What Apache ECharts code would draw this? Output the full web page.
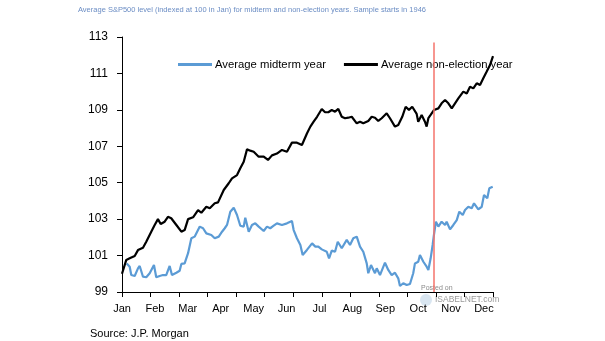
<!DOCTYPE html>
<html>
<head>
<meta charset="utf-8">
<script src="https://cdn.jsdelivr.net/npm/echarts@6/dist/echarts.min.js"></script>
<style>
html,body{margin:0;padding:0;background:#fff;}
#chart{width:605px;height:341px;}
</style>
</head>
<body>
<div id="chart"></div>
<script>
// ---- Data (x = trading day of year, y = index level, Jan = 100) ----
const months = ['Jan','Feb','Mar','Apr','May','Jun','Jul','Aug','Sep','Oct','Nov','Dec'];
const yTicks = [99, 101, 103, 105, 107, 109, 111, 113];
const nonElectionDays = [0,3.0,5.4,8.9,11.2,14.7,17.0,20.5,22.9,25.2,27.1,29.9,32.2,34.5,38.1,41.6,43.9,46.3,49.8,53.3,55.6,59.1,61.5,65.0,67.3,71.3,74.8,77.1,80.6,82.9,85.3,87.6,89.9,92.3,95.8,99.3,102.3,105.1,108.6,112.1,115.6,119.1,122.6,126.1,129.6,132.0,134.3,136.7,140.0,142.3,144.6,147.0,149.3,151.6,154.0,156.3,158.6,161.0,164.5,166.8,169.1,172.6,175.0,177.3,179.6,182.0,185.5,187.8,191.3,193.6,196.4,198.8,201.1,203.4,206.5,207.6,210.0,212.3,213.5,214.7,216.3,218.6,221.7,224.0,226.4,228.7,231.1,233.4,235.7,239.2,241.6,243.9,246.2,248.6,250.9,253.2,255.6,257.9,260.0];
const nonElectionValues = [100.0,100.76,100.85,100.98,101.3,101.43,101.76,102.31,102.68,103.0,102.73,102.86,103.13,103.05,102.68,102.31,102.4,103.0,103.1,103.5,103.35,103.68,103.6,103.87,103.92,104.6,104.97,105.24,105.42,105.79,106.15,106.83,106.76,106.7,106.43,106.43,106.25,106.5,106.6,106.8,106.7,107.2,107.2,107.07,107.7,108.08,108.35,108.62,109.05,108.87,108.87,108.99,108.9,109.05,108.62,108.54,108.57,108.62,108.26,108.35,108.26,108.39,108.62,108.57,108.39,108.54,108.81,108.54,108.08,108.17,108.62,109.17,109.0,109.17,108.78,108.35,108.72,108.35,108.08,108.54,108.72,108.99,109.08,109.36,109.54,109.36,109.08,109.36,109.63,110.0,109.9,110.27,110.18,110.46,110.36,110.73,111.1,111.46,111.95];
const midtermDays = [3.3,5.4,6.5,8.9,11.2,12.4,14.7,17.0,19.4,22.4,24.0,26.4,28.7,31.0,33.4,35.0,38.1,40.4,41.6,43.9,46.3,48.6,50.9,54.5,56.8,59.1,62.6,65.0,67.8,70.1,72.0,73.6,75.9,78.3,80.6,82.9,85.3,86.4,88.8,91.1,93.4,95.8,99.3,101.6,103.9,106.3,108.6,112.1,115.6,119.1,120.3,122.6,125.0,126.6,129.6,133.2,135.5,137.6,140.0,143.5,145.1,147.0,149.3,151.2,154.0,157.5,159.8,162.1,164.5,166.8,169.1,171.5,172.6,174.5,177.3,178.5,180.8,184.3,186.6,189.0,191.3,193.6,194.8,197.1,199.5,201.8,204.1,205.3,207.6,208.8,211.2,213.5,214.7,216.3,217.7,218.6,220.0,221.7,224.0,226.4,227.5,229.9,232.2,234.6,236.4,238.8,240.4,242.7,245.1,246.7,249.7,252.1,253.7,256.0,257.4,259.8];
const midtermValues = [100.57,100.39,99.93,99.88,100.3,100.43,99.84,99.81,100.03,100.48,99.81,99.88,99.93,99.93,100.43,99.93,100.06,100.17,100.54,100.57,101.13,101.95,102.04,102.59,102.5,102.22,102.13,101.95,102.04,102.31,102.5,102.68,103.41,103.63,103.23,102.64,102.59,103.08,102.31,102.68,102.77,102.59,102.35,102.59,102.5,102.64,102.77,102.68,102.77,102.9,102.4,101.95,101.58,101.03,101.31,101.67,101.49,101.49,101.34,101.21,100.85,101.27,101.21,101.76,101.4,101.86,101.58,101.95,102.04,101.49,101.21,100.57,100.03,100.48,100.03,100.3,99.93,100.61,100.21,99.93,100.06,99.75,99.33,99.48,99.38,99.44,100.03,100.57,100.66,101.03,100.66,100.39,100.21,100.85,101.58,102.13,102.86,102.59,102.86,102.68,102.86,102.44,102.68,102.95,103.41,103.23,103.5,103.68,103.6,103.87,103.54,103.68,104.33,104.15,104.69,104.78];
const markerDay = 218.6;
const seriesNames = ['Average midterm year', 'Average non-election year'];
const titleText = 'Average S&P500 level (indexed at 100 in Jan) for midterm and non-election years. Sample starts in 1946';
const sourceText = 'Source: J.P. Morgan';

// ---- Axis config ----
const xMax = 260, tickStep = 20, labelStep = 23.06;
const tickValues = [];
for (let v = 0; v <= xMax; v += tickStep) tickValues.push(v);
const labelValues = months.map((m, i) => i * labelStep);

const FONT = '"Liberation Sans", Arial, sans-serif';

const zip = (xs, ys) => xs.map((x, i) => [x, ys[i]]);

const chart = echarts.init(document.getElementById('chart'), null, {renderer: 'canvas'});
chart.setOption({
  animation: false,
  backgroundColor: '#fff',
  textStyle: {fontFamily: FONT},
  title: {
    text: titleText,
    left: 78, top: 6, padding: 0,
    textStyle: {fontSize: 7.5, fontWeight: 'normal', color: '#6b8dc4', fontFamily: FONT}
  },
  legend: {
    left: 173, top: 54,
    itemWidth: 34, itemHeight: 3, itemGap: 18,
    icon: 'rect',
    textStyle: {fontSize: 11.3, color: '#000', fontFamily: FONT, padding: [0,0,0,-2]},
    data: seriesNames
  },
  grid: {left: 122, right: 112, top: 37, bottom: 49, containLabel: false},
  xAxis: {
    type: 'value', min: 0, max: xMax,
    axisLine: {show: true, lineStyle: {color: '#000', width: 1}},
    axisTick: {show: true, customValues: tickValues, length: 5, lineStyle: {color: '#000'}},
    axisLabel: {
      customValues: labelValues,
      formatter: v => months[Math.round(v / labelStep)] || '',
      color: '#000', fontSize: 11, margin: 11, fontFamily: FONT
    },
    splitLine: {show: false}
  },
  yAxis: {
    type: 'value', min: 99, max: 113, interval: 2,
    axisLine: {show: true, lineStyle: {color: '#000', width: 1}},
    axisTick: {show: true, length: 5, lineStyle: {color: '#000'}},
    axisLabel: {color: '#000', fontSize: 12, margin: 14, fontFamily: FONT,
      formatter: v => yTicks.includes(v) ? String(v) : ''},
    splitLine: {show: false}
  },
  series: [
    {
      name: seriesNames[0], type: 'line', showSymbol: false, symbol: 'none',
      data: zip(midtermDays, midtermValues),
      lineStyle: {color: '#5b9bd5', width: 2.2}, itemStyle: {color: '#5b9bd5'},
      z: 3
    },
    {
      name: seriesNames[1], type: 'line', showSymbol: false, symbol: 'none',
      data: zip(nonElectionDays, nonElectionValues),
      lineStyle: {color: '#000', width: 2.2}, itemStyle: {color: '#000'},
      z: 3,
      markLine: {
        silent: true, symbol: 'none', label: {show: false},
        lineStyle: {color: '#f4736b', width: 1.5, type: 'solid'},
        data: [[{coord: [markerDay, 112.7]}, {coord: [markerDay, 99]}]]
      }
    }
  ],
  graphic: [
    {type: 'text', left: 90, top: 328, style: {text: sourceText, font: '11px ' + FONT, fill: '#000'}},
    {type: 'text', left: 421, top: 285, style: {text: 'Posted on', font: '7px ' + FONT, fill: '#8a8a8a'}},
    {type: 'circle', shape: {cx: 426, cy: 300, r: 6}, style: {fill: '#cfe0ee', opacity: 0.8}},
    {type: 'text', left: 435, top: 295, style: {text: 'ISABELNET.com', font: '8.5px ' + FONT, fill: '#9a9a9a'}}
  ]
});
</script>
</body>
</html>
